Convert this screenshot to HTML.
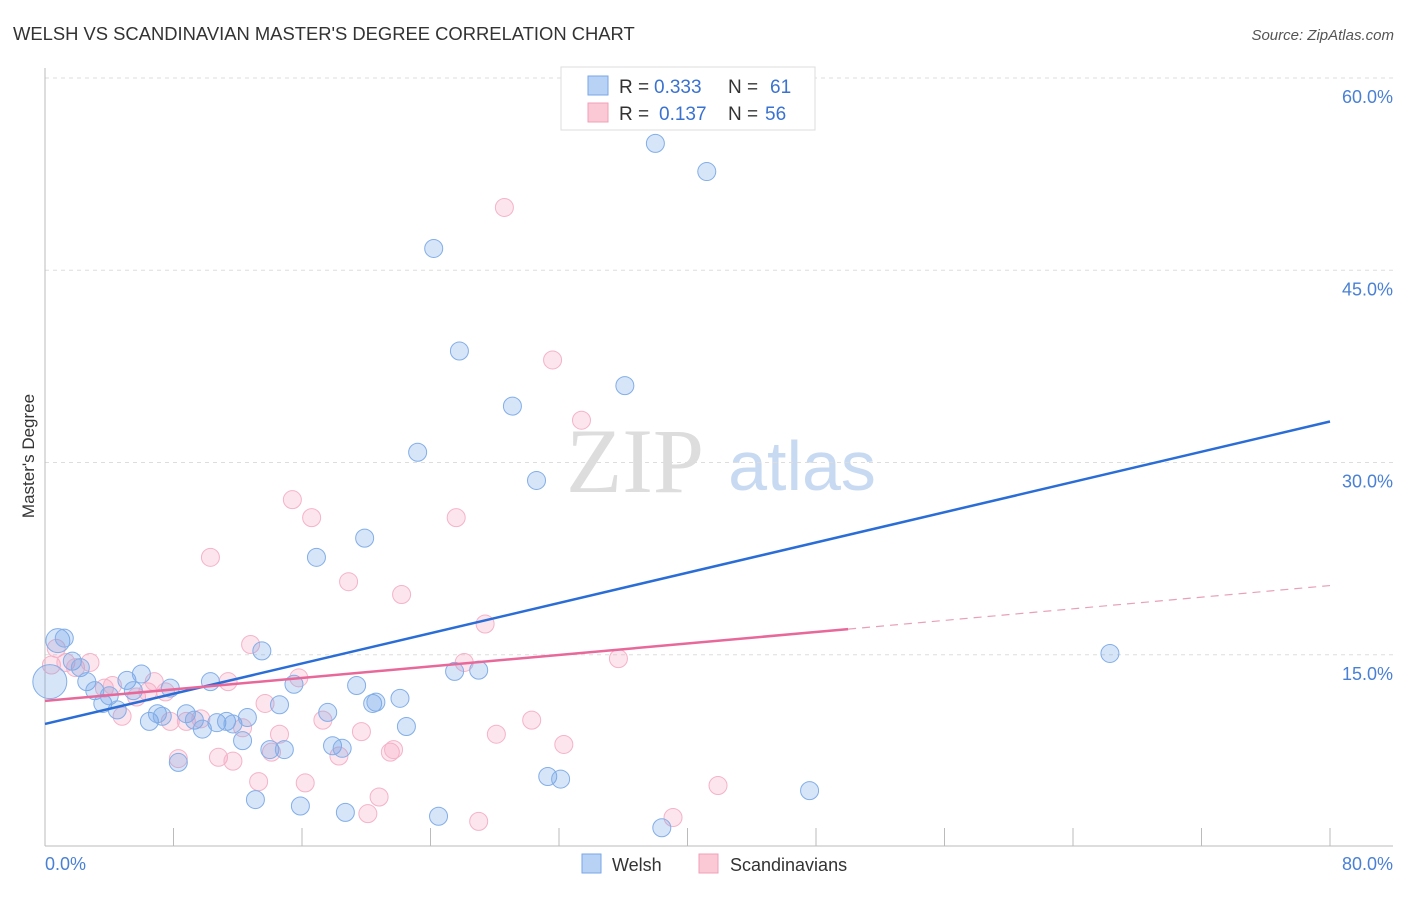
<!DOCTYPE html>
<html><head><meta charset="utf-8"><style>
body{margin:0;background:#fff;font-family:"Liberation Sans",sans-serif;}
</style></head><body>
<svg id="chart" width="1406" height="892" xmlns="http://www.w3.org/2000/svg" font-family="Liberation Sans, sans-serif">
<text x="13" y="40" font-size="18.4" fill="#333">WELSH VS SCANDINAVIAN MASTER'S DEGREE CORRELATION CHART</text>
<text x="1394" y="40" font-size="15" fill="#555" text-anchor="end" font-style="italic">Source: ZipAtlas.com</text>
<text transform="translate(34,456) rotate(-90)" font-size="17" fill="#333" text-anchor="middle">Master's Degree</text>
<g>
<text x="635" y="492" font-size="92" font-family="Liberation Serif, serif" fill="#ddd" text-anchor="middle">ZIP</text>
<text x="802" y="490" font-size="70" fill="#c8daf2" text-anchor="middle">atlas</text>
</g>
<g id="grid"></g><g id="axes"></g><g id="pts"></g><g id="lines"></g>
<g>
<rect x="561" y="67" width="254" height="63" fill="#fff" stroke="#ddd"/>
<rect x="588" y="76" width="20" height="19" fill="#b8d2f5" stroke="#7aa6e6"/>
<rect x="588" y="103" width="20" height="19" fill="#fbc8d6" stroke="#f0a0b8"/>
<text x="619" y="93" font-size="19" fill="#333">R =</text>
<text x="654" y="93" font-size="19" fill="#3a72d0">0.333</text>
<text x="728" y="93" font-size="19" fill="#333">N =</text>
<text x="770" y="93" font-size="19" fill="#3a72d0">61</text>
<text x="619" y="120" font-size="19" fill="#333">R =</text>
<text x="659" y="120" font-size="19" fill="#3a72d0">0.137</text>
<text x="728" y="120" font-size="19" fill="#333">N =</text>
<text x="765" y="120" font-size="19" fill="#3a72d0">56</text>
</g>
<g>
<rect x="582" y="854" width="19" height="19" fill="#b8d2f5" stroke="#7aa6e6"/>
<text x="612" y="871" font-size="18" fill="#333">Welsh</text>
<rect x="699" y="854" width="19" height="19" fill="#fbc8d6" stroke="#f0a0b8"/>
<text x="730" y="871" font-size="18" fill="#333">Scandinavians</text>
</g>
</svg>
<script>
const yTicks=[15,30,45,60];
const yTickLabels=["15.0%","30.0%","45.0%","60.0%"];
const xTickLabels=["0.0%","80.0%"];
const welshX=[38.0,41.2,24.2,25.8,36.1,29.1,23.2,30.6,19.9,16.9,66.3,13.5,0.8,1.2,1.7,2.2,0.3,2.6,3.1,3.6,4.0,4.5,5.1,5.5,6.0,6.5,7.0,7.3,7.8,8.3,8.8,9.3,9.8,10.3,10.7,11.3,11.7,12.3,12.6,13.1,14.0,14.9,14.6,15.5,15.9,17.6,17.9,18.5,18.7,19.4,20.4,20.6,22.1,22.5,24.5,25.5,27.0,31.3,32.1,38.4,47.6];
const welshY=[54.9,52.7,46.7,38.7,36.0,34.4,30.8,28.6,24.1,22.6,15.1,15.3,16.1,16.3,14.5,14.0,12.9,12.9,12.2,11.2,11.8,10.7,13.0,12.2,13.5,9.8,10.4,10.2,12.4,6.6,10.4,9.9,9.2,12.9,9.7,9.8,9.6,8.3,10.1,3.7,7.6,7.6,11.1,12.7,3.2,10.5,7.9,7.7,2.7,12.6,11.2,11.3,11.6,9.4,2.4,13.7,13.8,5.5,5.3,1.5,4.4];
const welshR=[9,9,9,9,9,9,9,9,9,9,9,9,12,9,9,9,17,9,9,9,9,9,9,9,9,9,9,9,9,9,9,9,9,9,9,9,9,9,9,9,9,9,9,9,9,9,9,9,9,9,9,9,9,9,9,9,9,9,9,9,9];
const scanX=[28.6,31.6,33.4,15.4,16.6,25.6,10.3,18.9,22.2,27.4,12.8,35.7,26.1,0.7,0.4,1.3,1.9,2.8,3.7,4.2,4.8,5.7,6.4,6.8,7.5,8.3,7.8,8.8,9.7,10.8,11.4,11.7,12.3,13.3,13.7,14.1,14.6,15.8,16.2,17.3,18.3,19.7,20.1,20.8,21.5,21.7,27.0,28.1,30.3,32.3,39.1,41.9];
const scanY=[49.9,38.0,33.3,27.1,25.7,25.7,22.6,20.7,19.7,17.4,15.8,14.7,14.4,15.5,14.2,14.4,14.0,14.4,12.4,12.6,10.2,11.7,12.1,12.9,12.1,6.9,9.8,9.8,10.0,7.0,12.9,6.7,9.3,5.1,11.2,7.4,8.8,13.2,5.0,9.9,7.1,9.0,2.6,3.9,7.4,7.6,2.0,8.8,9.9,8.0,2.3,4.8];
const welshLine=[9.6,33.2];
const scanLine=[11.4,17.0,20.4];
const X0=45,X1=1330,Y0=847,PX=769/60;
const sx=v=>X0+v/80*(X1-X0), sy=v=>Y0-v*PX;
const NS="http://www.w3.org/2000/svg";
function mk(p,t,a){const e=document.createElementNS(NS,t);for(const k in a)e.setAttribute(k,a[k]);document.getElementById(p).appendChild(e);return e;}
yTicks.forEach((t,i)=>{
 const g=mk('grid','line',{x1:45,x2:1393,y1:sy(t),y2:sy(t),stroke:'#ddd','stroke-dasharray':'4,4'});
 
 
 const l=mk('grid','text',{x:1393,y:sy(t)+25,'font-size':18,fill:'#4a80d4','text-anchor':'end'});
 l.textContent=yTickLabels[i];
 
 
});
const ya=mk('axes','line',{x1:45,x2:45,y1:68,y2:846,stroke:'#bbb'});


const xa=mk('axes','line',{x1:45,x2:1393,y1:846,y2:846,stroke:'#bbb'});


for(let v=0;v<=80;v+=8){
 const t=mk('axes','line',{x1:sx(v),x2:sx(v),y1:828,y2:846,stroke:'#bbb'});
 
 
}
[[0,'start',45],[80,'end',1393]].forEach((d,i)=>{
 const l=mk('axes','text',{x:d[2],y:870,'font-size':18,fill:'#4a80d4','text-anchor':d[1]});
 l.textContent=xTickLabels[i];
 
 
});
scanX.forEach((v,i)=>{
 const c=mk('pts','circle',{cx:sx(v),cy:sy(scanY[i]),r:9,fill:'rgba(245,160,190,0.28)',stroke:'#f5b3c8','stroke-width':1});
 
 
});
welshX.forEach((v,i)=>{
 const c=mk('pts','circle',{cx:sx(v),cy:sy(welshY[i]),r:welshR[i],fill:'rgba(110,160,230,0.28)',stroke:'#82aee8','stroke-width':1});
 
 
});
const bl=mk('lines','line',{x1:sx(0),y1:sy(welshLine[0]),x2:sx(80),y2:sy(welshLine[1]),stroke:'#2a6dd6','stroke-width':2.5});


const pl=mk('lines','line',{x1:sx(0),y1:sy(scanLine[0]),x2:sx(50),y2:sy(scanLine[1]),stroke:'#e8689a','stroke-width':2.5});


const pd=mk('lines','line',{x1:sx(50),y1:sy(scanLine[1]),x2:sx(80),y2:sy(scanLine[2]),stroke:'#e8a0b8','stroke-width':1.2,'stroke-dasharray':'8,6'});


</script>
</body></html>
